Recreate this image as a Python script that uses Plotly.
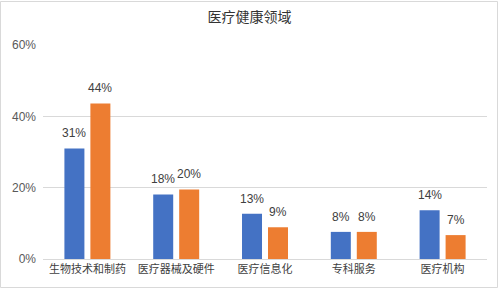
import plotly.graph_objects as go

categories = ["生物技术和制药", "医疗器械及硬件", "医疗信息化", "专科服务", "医疗机构"]
series_a = [0.31, 0.181, 0.127, 0.076, 0.137]
series_b = [0.436, 0.195, 0.089, 0.076, 0.067]
tick_vals = [0, 0.2, 0.4, 0.6]
tick_text = ["0%", "20%", "40%", "60%"]
title = "医疗健康领域"

W, H = 499, 290
ML, MR, MT, MB = 43, 12, 45, 31
font_fam = "Liberation Sans, Noto Sans CJK SC, sans-serif"

fig = go.Figure()
for vals, col in [(series_a, "#4472C4"), (series_b, "#ED7D31")]:
    fig.add_trace(go.Bar(
        x=categories, y=vals, marker=dict(color=col, line=dict(width=0)),
        showlegend=False,
    ))

# data labels, centred on each bar of the group
for vals, shift in [(series_a, -13), (series_b, 13)]:
    for c, v in zip(categories, vals):
        fig.add_annotation(x=c, y=v, text=f"{round(v*100):.0f}%", showarrow=False,
                           xshift=shift, yshift=6, yanchor="bottom",
                           font=dict(size=12, color="#404040", family=font_fam))

pw = W - ML - MR
ph = H - MT - MB
fig.add_shape(type="rect", xref="paper", yref="paper",
              x0=(0.5 - ML) / pw, x1=(W - 1.5 - ML) / pw,
              y0=-(MB - 2.5) / ph, y1=1 + (MT - 1.5) / ph,
              line=dict(color="#D9D9D9", width=1), fillcolor="rgba(0,0,0,0)", layer="below")

fig.update_layout(
    width=W, height=H,
    margin=dict(l=ML, r=MR, t=MT, b=MB),
    paper_bgcolor="white", plot_bgcolor="white",
    barmode="group", bargap=0.415, bargroupgap=0.23,
    title=dict(text=title, x=0.5, xanchor="center", y=1 - 17 / H, yanchor="middle",
               font=dict(size=14, color="#333333", family="Noto Sans CJK SC, sans-serif")),
    font=dict(family=font_fam),
    xaxis=dict(showgrid=False, showline=True, linecolor="#D9D9D9", linewidth=1,
               ticks="", tickfont=dict(size=11, color="#404040", family="Noto Sans CJK SC, sans-serif")),
    yaxis=dict(range=[0, 0.6], tickvals=tick_vals, ticktext=tick_text,
               showgrid=True, gridcolor="#D9D9D9", gridwidth=1, zeroline=False,
               showline=False, ticks="", tickfont=dict(size=12, color="#595959"),
               ticklabelstandoff=6),
)

fig.write_html("out.html")
